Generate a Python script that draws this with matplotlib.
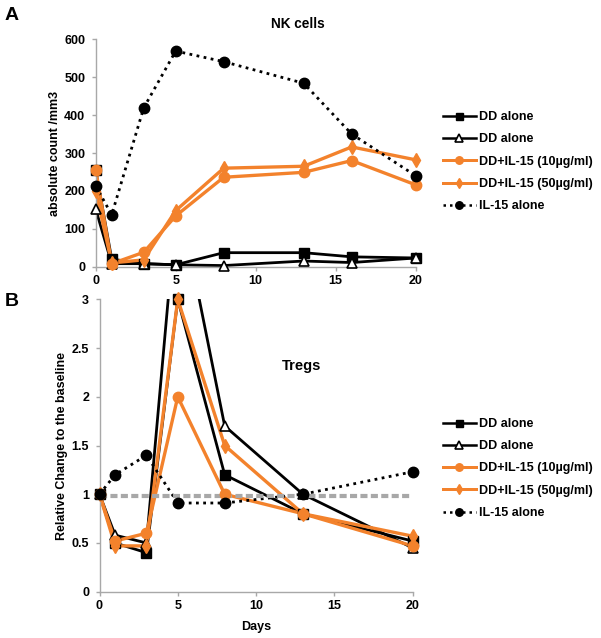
import matplotlib
matplotlib.use("Agg")
import matplotlib.pyplot as plt
import numpy as np
from matplotlib.lines import Line2D

plt.rcParams['font.family'] = ['Liberation Sans', 'DejaVu Sans']
plt.rcParams['font.weight'] = 'bold'

# ---------------- data ----------------
days_A = [0, 1, 3, 5, 8, 13, 16, 20]
A_dd_sq = [255, 20, 8, 5, 37, 37, 26, 23]
A_dd_tri = [152, 8, 8, 5, 3, 15, 11, 23]
A_il10 = [256, 8, 38, 134, 236, 249, 280, 216]
A_il50 = [200, 10, 18, 148, 260, 265, 316, 282]
A_il15 = [213, 137, 419, 569, 541, 484, 350, 240]

days_B = [0, 1, 3, 5, 8, 13, 20]
B_dd_sq = [1.0, 0.50, 0.40, 3.0, 1.2, 0.8, 0.52]
B_dd_tri = [1.0, 0.58, 0.50, 4.1, 1.7, 1.0, 0.45]
B_il10 = [1.0, 0.52, 0.60, 2.0, 1.0, 0.8, 0.47]
B_il50 = [1.0, 0.47, 0.47, 3.0, 1.5, 0.8, 0.57]
B_il15 = [1.0, 1.2, 1.4, 0.91, 0.91, 1.0, 1.23]
baseline = 0.98

labels = ["DD alone", "DD alone", "DD+IL-15 (10\u00b5g/ml)", "DD+IL-15 (50\u00b5g/ml)", "IL-15 alone"]
xticks = [0, 5, 10, 15, 20]
yticks_A = [0, 100, 200, 300, 400, 500, 600]
yticks_B = [0, 0.5, 1, 1.5, 2, 2.5, 3]
yticklabels_B = ["0", "0.5", "1", "1.5", "2", "2.5", "3"]

ORANGE = '#F3822C'
GRAY = '#A8A8A8'

W, H = 601, 638
fig = plt.figure(figsize=(W / 100, H / 100), dpi=100)

def px_axes(l, r, t, b):
    return fig.add_axes([l / W, 1 - b / H, (r - l) / W, (b - t) / H])

axA = px_axes(95.7, 415.7, 39.3, 266.7)
axB = px_axes(99.5, 412.5, 299.3, 591.7)

styles = [
    dict(color='black', lw=2.0, marker='s', ms=7, mfc='black', mec='black'),
    dict(color='black', lw=2.0, marker='^', ms=7.5, mfc='white', mec='black', mew=1.2),
    dict(color=ORANGE, lw=2.4, marker='o', ms=7.5, mfc=ORANGE, mec=ORANGE),
    dict(color=ORANGE, lw=2.4, marker='d', ms=7.5, mfc=ORANGE, mec=ORANGE),
    dict(color='black', lw=2.0, ls=(0, (1, 1.6)), marker='o', ms=7.5, mfc='black', mec='black'),
]

def style_axes(ax):
    for s in ['top', 'right']:
        ax.spines[s].set_visible(False)
    for s in ['left', 'bottom']:
        ax.spines[s].set_color(GRAY)
        ax.spines[s].set_linewidth(1.0)
    ax.tick_params(direction='out', length=3, width=1, color=GRAY, labelsize=9)
    ax.tick_params(axis='y', pad=4.5)
    ax.tick_params(axis='x', pad=3)
    for lab in ax.get_xticklabels() + ax.get_yticklabels():
        lab.set_fontweight('bold')

def draw(ax, days, series, ymax):
    for vals, st in zip(series, styles):
        st_line = {k: v for k, v in st.items() if not k.startswith('m')}
        ax.plot(days, vals, zorder=2, **st_line)
        d = np.array(days, float)
        v = np.array(vals, float)
        keep = v <= ymax + 1e-9
        ax.plot(d[keep], v[keep], ls='none', zorder=4, clip_on=False,
                marker=st['marker'], ms=st['ms'], mfc=st['mfc'], mec=st['mec'],
                mew=st.get('mew', 1.0))

# Panel A
draw(axA, days_A, [A_dd_sq, A_dd_tri, A_il10, A_il50, A_il15], 600)
axA.set_xlim(0, 20)
axA.set_ylim(0, 600)
axA.set_xticks(xticks)
axA.set_yticks(yticks_A)
style_axes(axA)
axA.set_ylabel("absolute count /mm3", fontsize=9, fontweight='bold')
axA.yaxis.set_label_coords((55 - 95.7) / 320, 0.5)

# Panel B
axB.plot([0, 20], [baseline, baseline], color=GRAY, lw=3, ls=(0, (1.7, 0.8)), zorder=3)
draw(axB, days_B, [B_dd_sq, B_dd_tri, B_il10, B_il50, B_il15], 3)
axB.set_xlim(0, 20)
axB.set_ylim(0, 3)
axB.set_xticks(xticks)
axB.set_yticks(yticks_B)
axB.set_yticklabels(yticklabels_B)
style_axes(axB)
axB.set_ylabel("Relative Change to the baseline", fontsize=9, fontweight='bold')
axB.yaxis.set_label_coords((62 - 99.5) / 313, 0.5)
axB.set_xlabel("Days", fontsize=9, fontweight='bold')
axB.xaxis.set_label_coords(0.5, (591.7 - 627) / 292.4)
axB.xaxis.label.set_va('center')
axA.yaxis.label.set_va('center')
axB.yaxis.label.set_va('center')

# Titles
fig.text(298 / W, 1 - 24 / H, "NK cells", fontsize=9.8, fontweight='bold', ha='center', va='center')
fig.text(301.7 / W, 1 - 366 / H, "Tregs", fontsize=10.5, fontweight='bold', ha='center', va='center')

# Panel letters
fig.text(5 / W, 1 - 15 / H, "A", fontsize=14, fontweight='bold', ha='left', va='center')
fig.text(5 / W, 1 - 301 / H, "B", fontsize=14, fontweight='bold', ha='left', va='center')

# Legends
def handles():
    hs = []
    for st in styles:
        hs.append(Line2D([0], [0], color=st['color'], lw=st['lw'] * 0.9, ls=st.get('ls', '-'),
                         marker=st['marker'], ms=st['ms'] * 0.72, mfc=st['mfc'], mec=st['mec'],
                         mew=st.get('mew', 1.0)))
    return hs

for cy in (161.7, 468.5):
    leg = fig.legend(handles(), labels, loc='center left',
                     bbox_to_anchor=(443 / W, 1 - cy / H), frameon=False,
                     prop={'size': 9, 'weight': 'bold'}, handlelength=2.6,
                     handletextpad=0.3, labelspacing=0.82, borderpad=0, borderaxespad=0)

fig.savefig("out.png", dpi=100)
